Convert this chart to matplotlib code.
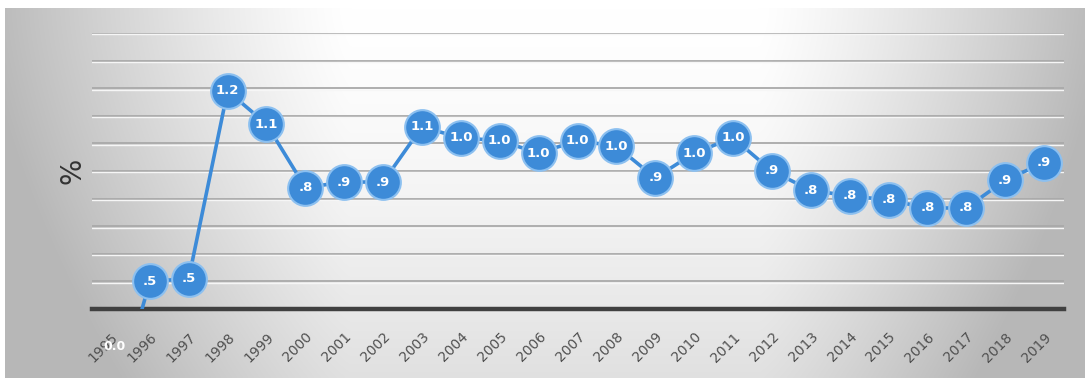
import matplotlib
matplotlib.use("Agg")
import matplotlib.pyplot as plt
import numpy as np

years = [str(y) for y in range(1995, 2020)]
values = [0.00, 0.50, 0.51, 1.19, 1.07, 0.84, 0.86, 0.86, 1.06, 1.02, 1.01,
          0.965, 1.01, 0.99, 0.875, 0.965, 1.02, 0.90, 0.83, 0.81, 0.795,
          0.766, 0.766, 0.867, 0.93]
labels = ["0.0", ".5", ".5", "1.2", "1.1", ".8", ".9", ".9", "1.1", "1.0", "1.0",
          "1.0", "1.0", "1.0", ".9", "1.0", "1.0", ".9", ".8", ".8", ".8",
          ".8", ".8", ".9", ".9"]
grid_levels = [0.5, 0.6, 0.7, 0.8, 0.9, 1.0, 1.1, 1.2, 1.3, 1.4]

BLUE = "#3d8bd8"
W, H = 1088, 378

fig = plt.figure(figsize=(W / 100, H / 100), dpi=100)
fig.patch.set_facecolor("white")

# background panel with grey-to-white gradient
bg = fig.add_axes([5 / W, 0, 1080 / W, 370 / H])
xs = np.linspace(5, 1085, 540)
ys = np.linspace(8, 378, 185)
X, Y = np.meshgrid(xs, ys)
hx = np.clip((350 - X) / 345, 0, 1) + np.clip((X - 760) / 325, 0, 1)
vy = np.clip((Y - 8) / 370, 0, 1)
shade = 1 - 0.26 * hx ** 1.2 - 0.12 * vy ** 1.5
shade = np.clip(shade, 0.72, 1)
bg.imshow(np.dstack([shade] * 3), aspect="auto", extent=(0, 1, 0, 1),
          interpolation="bilinear")
bg.set_axis_off()

# plot area: x from ~91.5 to ~1063.5 px, y 0.4 at 309 px, 1.4 at 33 px
ax = fig.add_axes([91.5 / W, (H - 309) / H, 972 / W, 276 / H])
ax.set_facecolor("none")
ax.set_xlim(-0.5, len(years) - 0.5)
ax.set_ylim(0.4, 1.4)

x = np.arange(len(years))
for g in grid_levels:
    ax.axhline(g, color="#a9a9a9", lw=1.3, zorder=1)
    ax.axhline(g - 0.005, color="#f6f6f6", lw=1.0, zorder=1)
ax.axhline(0.4, color="#404040", lw=3.2, zorder=2, clip_on=False)

ax.plot(x, values, color=BLUE, lw=2.6, zorder=3)
ax.plot(x[1:], values[1:], "o", ms=25, color=BLUE, mec="#8cc0f0", mew=1.5,
        zorder=4)
for xi, v, lab in zip(x, values, labels):
    if v < 0.4:
        ax.text(xi + 0.1, 0.265, lab, color="white", fontsize=9, fontweight="bold",
                ha="center", va="center", zorder=5, clip_on=False)
    else:
        ax.text(xi, v, lab, color="white", fontsize=9.5, fontweight="bold",
                ha="center", va="center", zorder=5)

ax.set_xticks(x)
ax.set_xticklabels(years, rotation=45, ha="right", rotation_mode="anchor",
                   color="#505050", fontsize=10)
ax.tick_params(axis="x", length=0, pad=15)
ax.set_yticks([])
for s in ax.spines.values():
    s.set_visible(False)

fig.text(72 / W, 1 - 171 / H, "%", rotation=90, fontsize=20, color="#333333",
         ha="center", va="center")

fig.savefig("out.png", dpi=100)
